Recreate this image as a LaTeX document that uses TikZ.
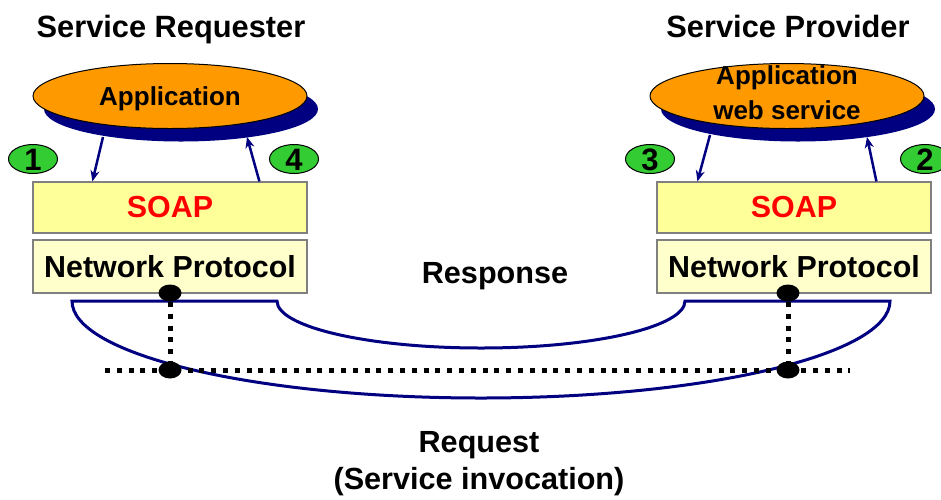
\documentclass[tikz,border=0pt]{standalone}
\usepackage{fontspec}
\setmainfont{Liberation Sans}
\usetikzlibrary{shapes,arrows.meta,shadows,positioning,calc}

\definecolor{appOrange}{HTML}{FF9900}
\definecolor{shadowBlue}{HTML}{000080}
\definecolor{stepGreen}{HTML}{33CC33}
\definecolor{soapYellow}{HTML}{FFFF99}
\definecolor{netYellow}{HTML}{FFFFCC}
\definecolor{linkBlue}{HTML}{000080}
\definecolor{soapRed}{HTML}{FF0000}

\tikzset{
  title/.style={font=\fontsize{15.4}{18}\selectfont\bfseries},
  label/.style={font=\fontsize{15.3}{18.5}\selectfont\bfseries},
  app/.style={ellipse, draw=black, line width=0.5pt, fill=appOrange,
    minimum width=137pt, minimum height=32.5pt, inner sep=0pt,
    drop shadow={shadow xshift=5.5pt, shadow yshift=-6.5pt, fill=shadowBlue, opacity=1}},
  apptext/.style={font=\fontsize{13}{17.5}\selectfont\bfseries},
  layer/.style={rectangle, draw=gray, line width=0.6pt, minimum width=137pt, inner sep=0pt,
    font=\fontsize{15.2}{18}\selectfont\bfseries},
  stepnum/.style={ellipse, draw=black, line width=0.5pt, fill=stepGreen,
    minimum width=24.5pt, minimum height=14.5pt, inner xsep=0pt, inner ysep=-0.6pt,
    text height=11.1pt, text depth=0pt, font=\fontsize{15.5}{16}\selectfont\bfseries},
  dot/.style={ellipse, fill=black, inner sep=0pt, minimum width=11.5pt, minimum height=8.5pt},
  wire/.style={line width=2.5pt, dash pattern=on 2.5pt off 3.4pt},
  link/.style={line width=1.5pt, draw=linkBlue},
  flow/.style={line width=1.25pt, draw=shadowBlue, -{Stealth[length=5.5pt,width=4.5pt]}}
}

\begin{document}
\begin{tikzpicture}[x=0.5pt,y=-0.5pt]
  \useasboundingbox (0,0) rectangle (941,499);

  % headings
  \node[title,anchor=base] (reqT)  at (171,37) {Service Requester};
  \node[title,anchor=base] (provT) at (788,37) {Service Provider};

  % applications
  \node[app] (appL) at (170,96) {};
  \node[apptext,anchor=base] (appLt) at (170,105) {Application};
  \node[app] (appR) at (787,96) {};
  \node[apptext,align=center] (appRt) at (787,93) {Application\\web service};

  % protocol stacks
  \node[layer,fill=soapYellow,minimum height=25.5pt] (soapL) at (170,207.5) {\color{soapRed}SOAP};
  \node[layer,fill=netYellow,minimum height=26.5pt]  (netL)  at (170,266.5) {Network Protocol};
  \node[layer,fill=soapYellow,minimum height=25.5pt] (soapR) at (794,207.5) {\color{soapRed}SOAP};
  \node[layer,fill=netYellow,minimum height=26.5pt]  (netR)  at (794,266.5) {Network Protocol};

  % steps
  \node[stepnum] (s1) at (33,159)  {1};
  \node[stepnum] (s4) at (294,159) {4};
  \node[stepnum] (s3) at (650,159) {3};
  \node[stepnum] (s2) at (925,159) {2};

  \coordinate (aL1) at (103,137);
  \coordinate (aL4) at (247,137);
  \coordinate (aR3) at (710,135);
  \coordinate (aR2) at (867,137);
  \draw[flow] (aL1) -- ([xshift=30pt]soapL.north west);
  \draw[flow] ([xshift=113.5pt]soapL.north west) -- (aL4);
  \draw[flow] (aR3) -- ([xshift=20.5pt]soapR.north west);
  \draw[flow] ([xshift=110pt]soapR.north west) -- (aR2);

  % response / request lines
  \draw[link] (72,301) -- (277,301)
    arc[start angle=180, end angle=360, x radius=102pt, y radius=23.5pt]
    -- (890,301)
    arc[start angle=0, end angle=-180, x radius=204.5pt, y radius=48.5pt]
    -- cycle;

  % network bus
  \coordinate (busW) at (105,370);
  \coordinate (busE) at (850,370);
  \draw[wire] (busW) -- (busE);

  \node[dot] (dNL) at (170,293) {};
  \node[dot] (dBL) at (170,370) {};
  \node[dot] (dNR) at (788,293) {};
  \node[dot] (dBR) at (788,370) {};
  \draw[wire] (dNL) -- (dBL);
  \draw[wire] (dNR) -- (dBR);

  \node[label,anchor=base] (resp) at (495,283) {Response};
  \node[label,align=center] (req) at (479,463.5) {Request\\(Service invocation)};
\end{tikzpicture}
\end{document}
